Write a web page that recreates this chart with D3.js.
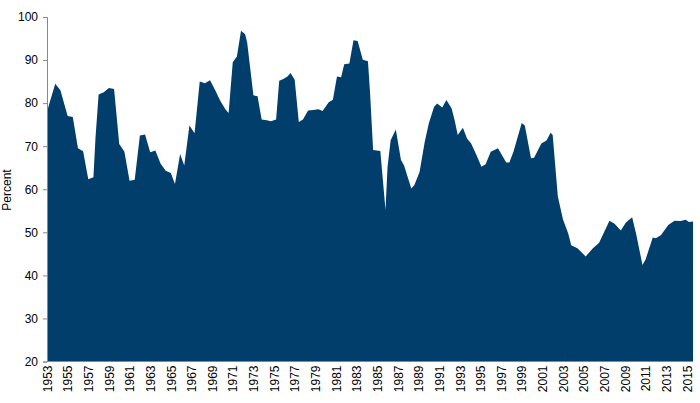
<!DOCTYPE html>
<html>
<head>
<meta charset="utf-8">
<script src="https://cdn.jsdelivr.net/npm/d3@7"></script>
<style>
  body { margin: 0; background: #fff; }
  text { font-family: "Liberation Sans", Arial, sans-serif; }
</style>
</head>
<body>
<script>
// year (decimal) and percent
var years = [1953.0,1953.3,1953.8,1954.3,1955.0,1955.5,1956.0,1956.5,1957.0,1957.5,1957.7,1958.0,1958.5,1959.0,1959.5,
  1960.0,1960.5,1961.0,1961.5,1962.0,1962.5,1963.0,1963.5,1964.0,1964.5,1965.0,1965.4,1965.9,1966.3,1966.8,1967.3,
  1967.8,1968.3,1968.8,1969.3,1969.8,1970.3,1970.6,1971.0,1971.4,1971.8,1972.2,1972.4,1973.0,1973.4,1973.8,1974.3,
  1974.7,1975.2,1975.5,1975.9,1976.3,1976.6,1977.0,1977.4,1977.8,1978.3,1978.8,1979.3,1979.7,1980.3,1980.7,1981.1,
  1981.5,1981.8,1982.3,1982.7,1983.1,1983.6,1984.1,1984.3,1984.6,1985.3,1985.8,1986.0,1986.3,1986.8,1987.3,1987.6,
  1988.3,1988.6,1989.1,1989.6,1990.0,1990.5,1990.8,1991.3,1991.7,1992.2,1992.5,1992.8,1993.3,1993.7,1994.1,1994.6,
  1995.1,1995.5,1996.0,1996.7,1997.5,1997.8,1998.2,1999.0,1999.3,1999.9,2000.2,2000.9,2001.4,2001.8,2002.0,2002.5,
  2003.0,2003.5,2003.8,2004.4,2005.2,2005.9,2006.5,2007.5,2008.0,2008.6,2009.1,2009.7,2010.1,2010.7,2011.0,2011.7,
  2012.0,2012.5,2013.2,2013.8,2014.4,2014.9,2015.2,2015.6];
var values = [78,80.5,84.5,83,77,76.8,69.5,68.8,62.3,62.8,72,82,82.5,83.5,83.3,
  70.5,68.7,62,62.2,72.5,72.7,68.6,69,66,64.3,63.8,61.2,68.2,65.5,74.8,73,
  85,84.6,85.3,83,80.5,78.5,77.7,89.5,90.8,96.8,96,94,81.8,81.6,76.2,76,
  75.8,76.2,85.2,85.6,86.2,87,85.4,75.6,76.2,78.3,78.4,78.6,78.2,80.2,80.8,86.2,
  86,89,89.2,94.6,94.4,90.1,89.7,82.6,69.1,68.9,55.2,65.2,71.4,73.9,66.8,65.5,
  60.2,61,64,71,75.3,79.1,79.9,79,80.7,78.8,76,72.6,74.3,71.8,70.6,68,
  65.2,65.8,68.7,69.5,66.2,66.2,68.7,75.4,74.8,67.2,67.3,70.6,71.3,73.1,72.6,58.3,
  53,49.8,47,46.3,44.4,46.3,47.6,52.7,52,50.4,52.3,53.5,49.5,42.4,43.7,48.8,
  48.6,49.4,51.7,52.7,52.6,52.9,52.4,52.5];
var tickYears = d3.range(1953, 2016, 2);
var yTicks = [20,30,40,50,60,70,80,90,100];

var W = 700, H = 403;
var m = {left: 47, right: 6, top: 17, bottom: 42};

var svg = d3.select("body").append("svg").attr("width", W).attr("height", H);

var x = d3.scaleLinear().domain([1953, 2015.6]).range([m.left, m.left + (2015.6-1953)*10.32]);
var y = d3.scaleLinear().domain([20, 100]).range([H - m.bottom + 0.5, m.top]);

var area = d3.area()
  .x(function(d,i){ return x(years[i]); })
  .y0(y(20))
  .y1(function(d){ return y(d); });

svg.append("path").datum(values).attr("d", area).attr("fill", "#023E6B");

var yAxis = svg.append("g").attr("transform", "translate(" + m.left + ",0)")
  .call(d3.axisLeft(y).tickValues(yTicks).tickSize(4).tickPadding(5));
yAxis.selectAll("text").attr("font-size", "12px").attr("fill", "#000");
yAxis.selectAll("line,path").attr("stroke", "#888");

var xAxis = svg.append("g").attr("transform", "translate(0," + y(20) + ")")
  .call(d3.axisBottom(x).tickValues(tickYears).tickFormat(d3.format("d")).tickSize(0).tickSizeOuter(0));
xAxis.select(".domain").attr("stroke", "#888").attr("d", "M" + m.left + ",0H" + x(2015.6));
xAxis.selectAll("text")
  .attr("font-size", "12px").attr("fill", "#000")
  .attr("transform", "rotate(-90)")
  .attr("text-anchor", "end")
  .attr("x", -4).attr("y", 0).attr("dy", "0.35em");

svg.append("text").attr("transform", "translate(11,190) rotate(-90)")
  .attr("text-anchor", "middle").attr("font-size", "12px").text("Percent");
</script>
</body>
</html>
